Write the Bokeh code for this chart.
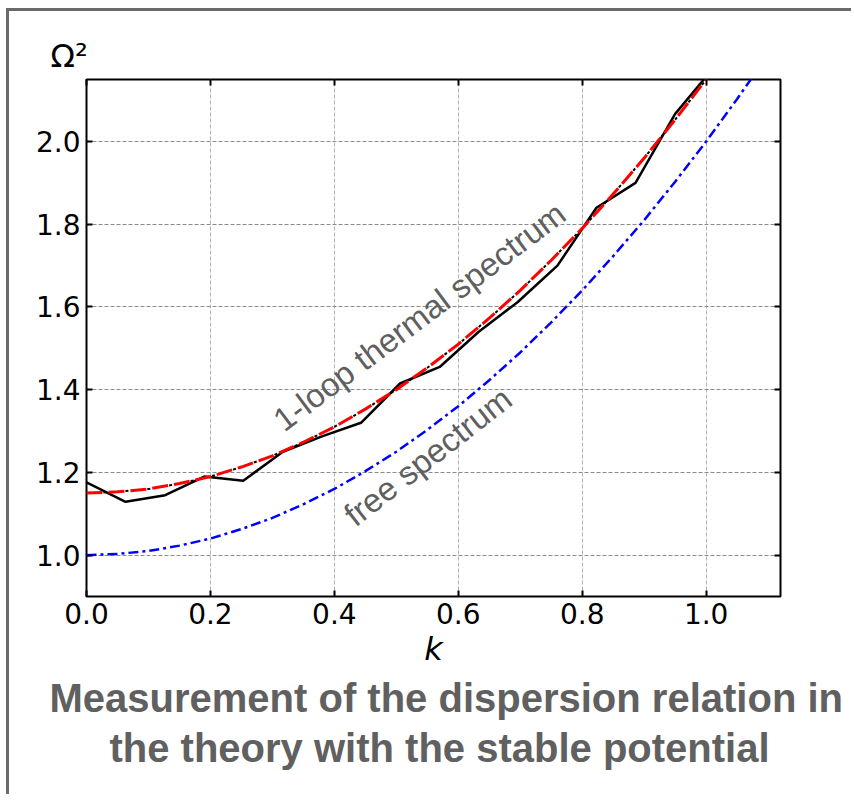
import math
from bokeh.plotting import figure
from bokeh.models import LinearAxis, Label, FixedTicker, PrintfTickFormatter, Title
from bokeh.embed import file_html
from bokeh.resources import INLINE

# measured data (black line)
k_data = [0.0, 0.063, 0.127, 0.19, 0.253, 0.317, 0.38, 0.443, 0.506, 0.57,
          0.633, 0.696, 0.76, 0.823, 0.886, 0.95, 1.013]
omega2_data = [1.176, 1.129, 1.145, 1.19, 1.18, 1.25, 1.287, 1.32, 1.415, 1.455,
               1.54, 1.612, 1.70, 1.84, 1.90, 2.067, 2.18]

# 1-loop thermal spectrum
k_loop = [0.0, 0.05, 0.1, 0.15, 0.2, 0.25, 0.3, 0.35, 0.4, 0.45, 0.5,
          0.55, 0.6, 0.65, 0.7, 0.75, 0.8, 0.85, 0.9, 0.95, 1.0, 1.05]
omega2_loop = [1.150, 1.153, 1.160, 1.173, 1.190, 1.213, 1.240, 1.273, 1.310, 1.353, 1.400,
               1.453, 1.510, 1.573, 1.640, 1.713, 1.790, 1.873, 1.960, 2.053, 2.150, 2.253]

# free spectrum (blue dash-dot curve)
k_free = [0.0, 0.05, 0.1, 0.15, 0.2, 0.25, 0.3, 0.35, 0.4, 0.45, 0.5,
          0.55, 0.6, 0.65, 0.7, 0.75, 0.8, 0.85, 0.9, 0.95, 1.0, 1.05, 1.1]
omega2_free = [1.000, 1.003, 1.010, 1.023, 1.040, 1.063, 1.090, 1.123, 1.160, 1.203, 1.250,
               1.303, 1.360, 1.423, 1.490, 1.563, 1.640, 1.723, 1.810, 1.903, 2.000, 2.103, 2.210]

x_ticks = [0.0, 0.2, 0.4, 0.6, 0.8, 1.0]
y_ticks = [1.0, 1.2, 1.4, 1.6, 1.8, 2.0]

caption_lines = ["Measurement of the dispersion relation in",
                 "the theory with the stable potential"]

p = figure(width=845, height=786, x_range=(0, 1.12), y_range=(0.9, 2.15),
           output_backend="svg", toolbar_location=None,
           min_border_left=77, min_border_top=68, min_border_right=74, min_border_bottom=201)
p.styles = {"box-shadow": "-3px -3px 0px 0px #6a6a6a",
            "margin-left": "9px", "margin-top": "11px"}
p.background_fill_color = "white"
p.border_fill_color = "white"
p.outline_line_color = "black"
p.outline_line_width = 2
p.outline_line_alpha = 1.0

xt = FixedTicker(ticks=x_ticks)
yt = FixedTicker(ticks=y_ticks)


def style_axis(ax, ticker, show_labels, standoff):
    ax.ticker = ticker
    ax.formatter = PrintfTickFormatter(format="%.1f")
    ax.axis_line_color = None
    ax.major_tick_in = 6
    ax.major_tick_out = 0
    ax.major_tick_line_width = 2
    ax.major_tick_line_color = "black"
    ax.minor_tick_line_color = None
    ax.major_label_standoff = standoff
    ax.major_label_text_font = "DejaVu Sans"
    ax.major_label_text_font_size = "28px" if show_labels else "0px"
    ax.major_label_text_color = "black" if show_labels else None


bottom_ax = p.below[0]
left_ax = p.left[0]
style_axis(bottom_ax, xt, True, 6)
style_axis(left_ax, yt, True, 6)
top_ax = LinearAxis()
right_ax = LinearAxis()
style_axis(top_ax, xt, False, 0)
style_axis(right_ax, yt, False, 0)
p.add_layout(top_ax, "above")
p.add_layout(right_ax, "right")

# x-axis title
bottom_ax.axis_label = "k"
bottom_ax.axis_label_text_font = "DejaVu Sans"
bottom_ax.axis_label_text_font_style = "italic"
bottom_ax.axis_label_text_font_size = "32px"
bottom_ax.axis_label_text_color = "black"
bottom_ax.axis_label_standoff = 3

p.xgrid.ticker = xt
p.ygrid.ticker = yt
p.xgrid.grid_line_color = "#b0b0b0"
p.ygrid.grid_line_color = "#8c8c8c"
p.xgrid.grid_line_dash = "4 2"
p.ygrid.grid_line_dash = "4 2"
p.xgrid.grid_line_width = 1
p.ygrid.grid_line_width = 1

# curves
p.line(k_free, omega2_free, color="#0000ff", line_width=2.5, line_dash="10 4 3 4")
p.line(k_data, omega2_data, color="black", line_width=2.5)
p.line(k_loop, omega2_loop, color="black", line_width=2, line_dash="3 19", line_dash_offset=-17)
p.line(k_loop, omega2_loop, color="red", line_width=3, line_dash="16 6")

# in-plot labels
p.add_layout(Label(x=0.308, y=1.318, text="1-loop thermal spectrum", angle=math.radians(37),
                   text_font="Liberation Sans", text_font_size="33px", text_color="#5f5f5f",
                   text_align="left", text_baseline="alphabetic"))
p.add_layout(Label(x=0.4226, y=1.088, text="free spectrum", angle=math.radians(38),
                   text_font="Liberation Sans", text_font_size="33px", text_color="#5f5f5f",
                   text_align="left", text_baseline="alphabetic"))

# y-axis title at the top left
p.add_layout(Title(text="Ω²", align="left", offset=-36, standoff=10,
                   text_font="DejaVu Sans", text_font_size="32px", text_font_style="normal",
                   text_color="black"), "above")

# caption (left aligned with offsets so that each line is centred like the reference)
for txt, off, so in zip(caption_lines, [-37, 23], [6, 3]):
    p.add_layout(Title(text=txt, align="left", offset=off, standoff=so,
                       text_font="Liberation Sans", text_font_size="40px",
                       text_font_style="bold", text_color="#606060"), "below")

open("out.html", "w").write(file_html(p, INLINE))
